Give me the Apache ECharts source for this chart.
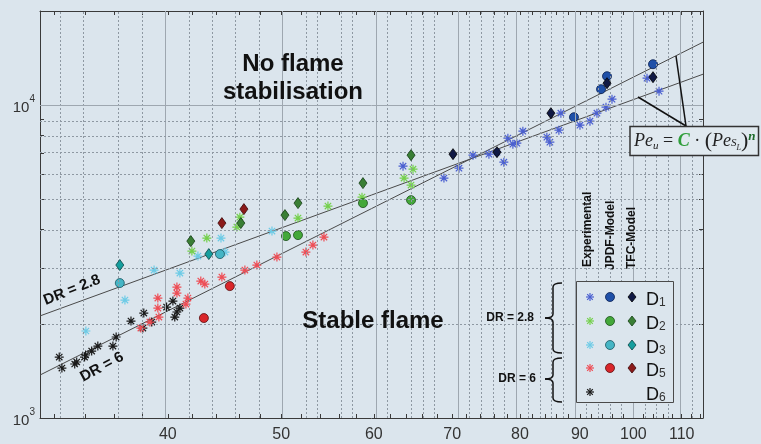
<!DOCTYPE html>
<html><head><meta charset="utf-8">
<script src="https://cdn.jsdelivr.net/npm/echarts@6/dist/echarts.min.js"></script>
<style>html,body{margin:0;padding:0;background:#dbe5ed;}#c{width:761px;height:444px;}</style>
</head><body><div id="c"></div>
<script>
// ---------- data ----------
const xRange = [31.1, 114.7];
const yRange = [1000, 20000];
const xMajorTicks = [40, 50, 60, 70, 80, 90, 100, 110];
const xMinorTicks = [32,34,36,38,42,44,46,48,52,54,56,58,62,64,66,68,72,74,76,78,82,84,86,88,92,94,96,98,102,104,106,108,112,114];
const yMajorTicks = [1000, 10000];
const yMinorTicks = [2000,3000,4000,5000,6000,7000,8000,9000,20000];
const yLabelExps = [3, 4];

const d1Exp = [[63.55,6384],[68.88,5846],[70.95,6290],[72.93,6922],[75.26,6973],[76.46,7077],[77.50,6575],[78.12,7846],[78.89,7506],[79.51,7561],[80.46,8259],[84.35,7904],[84.85,7617],[86.37,8320],[86.71,9428],[90.03,8631],[91.82,8889],[93.09,9428],[94.76,9854],[95.89,10451],[102.73,12197],[105.19,11084]];
const d1Jpdf = [[88.97,9154],[93.84,11249],[94.95,12377],[103.95,13520]];
const d1Tfc = [[70.12,6973],[76.46,7077],[85.02,9428],[94.95,11756],[103.95,12286]];

const d2Exp = [[41.94,3416],[43.19,3759],[45.82,4076],[46.09,4386],[51.68,4355],[54.82,4757],[58.62,5082],[63.68,5846],[64.56,5553],[64.81,6244]];
const d2Jpdf = [[50.47,3815],[51.68,3843],[58.73,4863],[64.56,4971]];
const d2Tfc = [[41.85,3677],[46.18,4198],[50.37,4452],[51.68,4863],[58.73,5635],[64.56,6922]];

const d3Exp = [[34.04,1897],[36.76,2382],[38.93,2971],[40.96,2906],[42.44,3293],[44.41,3759],[44.76,3391],[49.10,3958]];
const d3Jpdf = [[36.39,2700],[44.32,3342]];
const d3Tfc = [[36.39,3083],[43.36,3342]];

const d5Exp = [[37.93,1939],[38.61,2026],[39.22,2417],[39.22,2246],[39.30,2102],[40.72,2621],[40.72,2508],[41.61,2417],[41.45,2313],[42.68,2740],[43.02,2680],[44.49,2821],[46.55,2971],[47.66,3083],[49.58,3269],[52.49,3391],[53.22,3570],[54.39,3787]];
const d5Jpdf = [[42.94,2087],[45.19,2640]];
const d5Tfc = [[44.49,4198],[46.46,4653]];

const d6Exp = [[32.30,1566],[32.47,1444],[33.30,1488],[33.43,1510],[33.95,1566],[34.02,1590],[34.43,1637],[34.85,1698],[35.90,1698],[36.13,1815],[37.20,2041],[38.15,2165],[38.08,1939],[38.75,2026],[39.90,2262],[40.40,2365],[40.55,2102],[40.72,2182],[40.96,2246]];

const fitDR28 = [[31.1, 2120], [114.7, 12560]];
const fitDR6 = [[31.1, 1372], [114.7, 15900]];

const legendRows = ['1', '2', '3', '5', '6'];
const headers = ['Experimental', 'JPDF-Model', 'TFC-Model'];

// ---------- styles ----------
const BG = '#dbe5ed';
const SANS = '"Liberation Sans", Arial, sans-serif';
const SERIF = '"Liberation Serif", "DejaVu Serif", serif';
const col = {
  d1s:'#4a5fd0', d1c:'#1f50a8', d1cb:'#0a1f50', d1d:'#111a45', d1db:'#000',
  d2s:'#74d04c', d2c:'#44a83a', d2cb:'#1a4f1a', d2d:'#3a7f35', d2db:'#143d14',
  d3s:'#6dcbe6', d3c:'#45b5c5', d3cb:'#1b5560', d3d:'#159e9e', d3db:'#0b4545',
  d5s:'#ee4d55', d5c:'#d9262a', d5cb:'#5a0f10', d5d:'#8b1a1a', d5db:'#3a0808',
  d6s:'#1a1a1a'
};
const LG = v => Math.log10(v);
const toLog = arr => arr.map(p => [LG(p[0]), LG(p[1])]);
const starPath = 'path://M5,0L5,10M0,5L10,5M1.46,1.46L8.54,8.54M1.46,8.54L8.54,1.46';

function starSeries(name, data, c) {
  return {type:'scatter', name, data: toLog(data), symbol: starPath, symbolSize: 9,
    itemStyle:{color:c, borderColor:c, borderWidth:1.2, opacity:1}, z:3, silent:true};
}
function circSeries(name, data, c, b) {
  return {type:'scatter', name, data: toLog(data), symbol:'circle', symbolSize: 9,
    itemStyle:{color:c, borderColor:b, borderWidth:0.8, opacity:1}, z:4, silent:true};
}
function diaSeries(name, data, c, b) {
  return {type:'scatter', name, data: toLog(data), symbol:'diamond', symbolSize:[8,11],
    itemStyle:{color:c, borderColor:b, borderWidth:0.8, opacity:1}, z:5, silent:true};
}

const gridLines = [];
xMajorTicks.forEach(v => gridLines.push({xAxis: LG(v), lineStyle:{color:'#9ea7b0', width:1, type:'solid'}}));
xMinorTicks.forEach(v => gridLines.push({xAxis: LG(v), lineStyle:{color:'#8e98a2', width:1, type:[2,2]}}));
yMinorTicks.filter(v => v < yRange[1]).forEach(v => gridLines.push({yAxis: LG(v), lineStyle:{color:'#8e98a2', width:1, type:[2,2]}}));
yMajorTicks.filter(v => v > yRange[0]).forEach(v => gridLines.push({yAxis: LG(v), lineStyle:{color:'#9ea7b0', width:1, type:'solid'}}));

const xAllTicks = xMajorTicks.concat(xMinorTicks).map(LG);
const yAllTicks = yMajorTicks.concat(yMinorTicks).map(LG);

function xAx(pos, showLabel) {
  return {type:'value', position:pos, min:LG(xRange[0]), max:LG(xRange[1]),
    axisLine:{show:true, onZero:false, lineStyle:{color:'#3a3a3a', width:1}},
    axisTick:{show:true, inside:true, length:4, customValues:xAllTicks, lineStyle:{color:'#3a3a3a', width:1}},
    axisLabel:{show:showLabel, customValues: xMajorTicks.map(LG), margin:9, color:'#333', fontSize:16, fontFamily:SANS,
      formatter: v => String(Math.round(Math.pow(10, v)))},
    splitLine:{show:false}};
}
function yAx(pos, showLabel) {
  return {type:'value', position:pos, min:LG(yRange[0]), max:LG(yRange[1]),
    axisLine:{show:true, onZero:false, lineStyle:{color:'#3a3a3a', width:1}},
    axisTick:{show:true, inside:true, length:4, customValues:yAllTicks, lineStyle:{color:'#3a3a3a', width:1}},
    axisLabel:{show:showLabel, customValues: yLabelExps, margin:5, color:'#333',
      formatter: v => '{a|10}{b|' + Math.round(v) + '}',
      rich:{a:{fontSize:15, fontFamily:SANS, color:'#333', padding:[6,0,0,0]}, b:{fontSize:10, fontFamily:SANS, color:'#333', verticalAlign:'top'}}},
    splitLine:{show:false}};
}

// ---------- annotations ----------
const G = [];
function text(x, y, t, size, weight, opts) {
  const base = {text:t, x:0, y:0, fontSize:size, fontWeight:weight || 'normal', fontFamily:SANS, fill:'#111',
      textAlign:'center', align:'center', textVerticalAlign:'middle', verticalAlign:'middle'};
  const o = Object.assign({type:'text', x, y, z:100, silent:true}, opts || {});
  o.style = Object.assign(base, (opts && opts.style) || {});
  G.push(o);
}
text(293, 64, 'No flame', 24, 'bold');
text(293, 92, 'stabilisation', 24, 'bold');
text(373, 321, 'Stable flame', 24, 'bold');
text(72, 290, 'DR = 2.8', 15, 'bold', {rotation: 0.38});
text(102, 367, 'DR = 6', 15, 'bold', {rotation: 0.49});
text(534, 318, 'DR = 2.8', 12, 'bold', {style:{textAlign:'right', align:'right'}});
text(536, 379, 'DR = 6', 12, 'bold', {style:{textAlign:'right', align:'right'}});

// braces
function brace(x, y0, y1, ym) {
  const s = {stroke:'#111', lineWidth:1.5, fill:null};
  const h = 4;
  [
    {type:'bezierCurve', shape:{x1:x+9, y1:y0, x2:x, y2:y0+h, cpx1:x, cpy1:y0}},
    {type:'line', shape:{x1:x, y1:y0+h, x2:x, y2:ym-h}},
    {type:'bezierCurve', shape:{x1:x, y1:ym-h, x2:x-8, y2:ym, cpx1:x, cpy1:ym}},
    {type:'bezierCurve', shape:{x1:x-8, y1:ym, x2:x, y2:ym+h, cpx1:x, cpy1:ym}},
    {type:'line', shape:{x1:x, y1:ym+h, x2:x, y2:y1-h}},
    {type:'bezierCurve', shape:{x1:x, y1:y1-h, x2:x+9, y2:y1, cpx1:x, cpy1:y1}}
  ].forEach(e => { e.style = s; e.z = 100; e.silent = true; G.push(e); });
}
brace(553, 283, 353, 318);
brace(553, 358, 402, 379);

// legend box
G.push({type:'rect', shape:{x:576.5, y:281.5, width:97, height:121}, style:{fill:BG, stroke:'#4a4a4a', lineWidth:1}, z:99, silent:true});
const rowY = [297, 321, 345, 368, 392];
function star(cx, cy, r, c) {
  const k = 0.7 * r;
  [[cx,cy-r,cx,cy+r],[cx-r,cy,cx+r,cy],[cx-k,cy-k,cx+k,cy+k],[cx-k,cy+k,cx+k,cy-k]].forEach(a =>
    G.push({type:'line', shape:{x1:a[0], y1:a[1], x2:a[2], y2:a[3]}, style:{stroke:c, lineWidth:1.2}, z:101, silent:true}));
}
legendRows.forEach((n, i) => {
  const y = rowY[i];
  star(590, y, 4, col['d' + n + 's']);
  if (col['d' + n + 'c']) {
    G.push({type:'circle', shape:{cx:610, cy:y, r:4.5}, style:{fill:col['d'+n+'c'], stroke:col['d'+n+'cb'], lineWidth:0.8}, z:101, silent:true});
    G.push({type:'polygon', shape:{points:[[632,y-5],[636,y],[632,y+5],[628,y]]}, style:{fill:col['d'+n+'d'], stroke:col['d'+n+'db'], lineWidth:0.8}, z:101, silent:true});
  }
  G.push({type:'text', x:646, y:y + 3, z:101, silent:true,
    style:{text:'{a|D}{b|' + n + '}', x:0, y:0, textAlign:'left', align:'left', textVerticalAlign:'middle', verticalAlign:'middle',
      rich:{a:{fontSize:18, fontFamily:SANS, fill:'#111'}, b:{fontSize:12, fontFamily:SANS, fill:'#333', verticalAlign:'bottom'}}}});
});
// column headers
[[588, 267], [611, 270], [632, 269]].forEach((p, i) => {
  G.push({type:'text', x:p[0], y:p[1], rotation:Math.PI/2, z:101, silent:true,
    style:{text:headers[i], x:0, y:0, fontSize:12, fontWeight:'bold', fontFamily:SANS, fill:'#111',
      textAlign:'left', align:'left', textVerticalAlign:'middle', verticalAlign:'middle'}});
});

// equation box + pointer lines
G.push({type:'line', shape:{x1:686, y1:126, x2:676, y2:56}, style:{stroke:'#111', lineWidth:1.5}, z:100, silent:true});
G.push({type:'line', shape:{x1:686, y1:126, x2:638, y2:97}, style:{stroke:'#111', lineWidth:1.5}, z:100, silent:true});
G.push({type:'rect', shape:{x:630, y:126.5, width:128.5, height:29}, style:{fill:'#e0e9ef', stroke:'#333', lineWidth:1.5}, z:101, silent:true});
G.push({type:'text', x:634, y:141, z:102, silent:true,
  style:{text:'{i|Pe}{u|u}{t| = }{c|C}{t| · }{p|(}{i|Pe}{s|S}{l|L}{p|)}{e|n}', x:0, y:0,
    textAlign:'left', align:'left', textVerticalAlign:'middle', verticalAlign:'middle',
    rich:{
      i:{fontSize:18, fontFamily:SERIF, fontStyle:'italic', fill:'#222'},
      u:{fontSize:11, fontFamily:SERIF, fontStyle:'italic', fill:'#222', verticalAlign:'bottom'},
      t:{fontSize:18, fontFamily:SERIF, fill:'#222'},
      c:{fontSize:18, fontFamily:SERIF, fontStyle:'italic', fontWeight:'bold', fill:'#2e9e3a'},
      p:{fontSize:22, fontFamily:SERIF, fill:'#222'},
      s:{fontSize:11, fontFamily:SERIF, fontStyle:'italic', fill:'#222', verticalAlign:'bottom', padding:[0,0,3,0]},
      l:{fontSize:8, fontFamily:SERIF, fontStyle:'italic', fill:'#222', verticalAlign:'bottom'},
      e:{fontSize:13, fontFamily:SERIF, fontStyle:'italic', fontWeight:'bold', fill:'#1d6b2a', verticalAlign:'top'}
    }}});

const option = {
  backgroundColor: BG,
  animation: false,
  grid: {left:40, right:58, top:11, bottom:26, containLabel:false, outerBoundsMode:'none'},
  xAxis: [xAx('bottom', true), xAx('top', false)],
  yAxis: [yAx('left', true), yAx('right', false)],
  series: [
    {type:'scatter', data:[], z:1, silent:true,
      markLine:{silent:true, symbol:['none','none'], label:{show:false}, animation:false, data:gridLines}},
    {type:'line', name:'DR=2.8 fit', data: toLog(fitDR28), symbol:'none', lineStyle:{color:'#4a4a4a', width:1}, z:2, silent:true},
    {type:'line', name:'DR=6 fit', data: toLog(fitDR6), symbol:'none', lineStyle:{color:'#4a4a4a', width:1}, z:2, silent:true},
    starSeries('D6 exp', d6Exp, col.d6s),
    starSeries('D5 exp', d5Exp, col.d5s),
    starSeries('D3 exp', d3Exp, col.d3s),
    starSeries('D2 exp', d2Exp, col.d2s),
    starSeries('D1 exp', d1Exp, col.d1s),
    circSeries('D1 JPDF', d1Jpdf, col.d1c, col.d1cb),
    circSeries('D2 JPDF', d2Jpdf, col.d2c, col.d2cb),
    circSeries('D3 JPDF', d3Jpdf, col.d3c, col.d3cb),
    circSeries('D5 JPDF', d5Jpdf, col.d5c, col.d5cb),
    diaSeries('D1 TFC', d1Tfc, col.d1d, col.d1db),
    diaSeries('D2 TFC', d2Tfc, col.d2d, col.d2db),
    diaSeries('D3 TFC', d3Tfc, col.d3d, col.d3db),
    diaSeries('D5 TFC', d5Tfc, col.d5d, col.d5db)
  ],
  graphic: G
};
const chart = echarts.init(document.getElementById('c'));
chart.setOption(option);
</script></body></html>
